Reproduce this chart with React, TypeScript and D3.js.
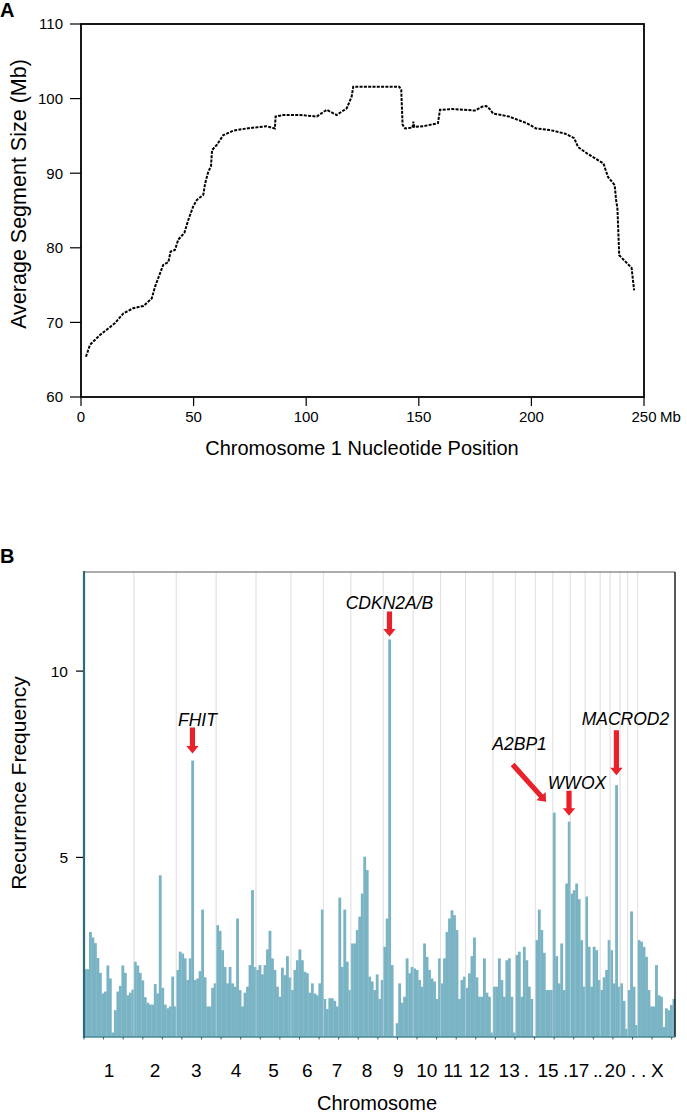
import React from 'react';
import * as d3 from 'd3';

// ---------- Panel A data ----------
const segPos = [2.2, 4, 8.4, 15.1, 18.8, 23.2, 27.7, 31.4, 32.9, 36.5, 38.8, 39.8, 41.7, 43.2, 45.9, 47.6, 49.9, 51.4, 54.3, 55.1, 56.5, 57.7, 58.2, 60.3, 63.2, 67.6, 73.6, 82.4, 86.1, 86.4, 89.8, 97.2, 104.7, 109.1, 113.5, 118, 120.2, 120.9, 141.3, 142.2, 142.8, 143.9, 147.2, 147.6, 148.0, 152, 158.5, 159.4, 165, 170, 175, 178, 180, 181.5, 183, 190, 198, 202, 208, 215, 219, 220.7, 224.5, 232, 234, 237, 237.6, 238.2, 239, 244.5, 245.6];
const segSize = [65.4, 67.0, 68.3, 69.9, 71.2, 71.9, 72.2, 73.2, 74.8, 77.7, 78.1, 79.5, 79.7, 81.1, 82.0, 83.7, 85.6, 86.4, 87.1, 88.6, 90.2, 90.9, 93.1, 93.8, 95.1, 95.7, 96.0, 96.3, 96.0, 97.6, 97.8, 97.8, 97.6, 98.5, 97.8, 98.7, 100.3, 101.6, 101.6, 101.2, 96.5, 96.0, 96.1, 96.9, 96.2, 96.3, 96.7, 98.5, 98.6, 98.5, 98.4, 98.9, 99.0, 98.6, 98.0, 97.6, 96.7, 96.0, 95.8, 95.3, 94.7, 93.5, 92.7, 91.3, 89.5, 88.4, 86.4, 85.3, 79.0, 77.3, 74.3];
const aTicksX = [0, 50, 100, 150, 200, 250];
const aTicksY = [60, 70, 80, 90, 100, 110];

// ---------- Panel B data ----------
const chromNames = ['1', '2', '3', '4', '5', '6', '7', '8', '9', '10', '11', '12', '13', '14', '15', '16', '17', '18', '19', '20', '21', '22', 'X'];
const chromTickLabels = ['1', '2', '3', '4', '5', '6', '7', '8', '9', '10', '11', '12', '13', '.', '15', '.', '17', '.', '.', '20', '.', '.', 'X'];
const chr1 = [2.0, 2.0, 3.0, 2.85, 2.7, 2.3, 1.9, 1.35, 1.4, 2.1, 1.75, 0.3, 0.9, 1.4, 1.55, 2.1, 1.9, 1.3, 1.37, 1.45];
const chr2 = [2.2, 2.1, 1.9, 1.7, 1.25, 1.1, 1.05, 1.05, 1.6, 1.35, 4.52, 1.5, 1.05, 0.95, 1.0, 1.8, 1.0];
const chr3 = [1.98, 2.47, 2.42, 2.29, 1.71, 2.29, 7.6, 1.71, 1.75, 1.95, 3.6, 1.78, 1.0, 1.0, 1.5, 1.62];
const chr4 = [3.18, 3.03, 2.51, 2.06, 1.62, 2.06, 1.62, 1.53, 3.36, 1.44, 1.0, 1.37, 1.53, 2.11, 4.12, 2.06];
const chr5 = [1.98, 2.11, 1.86, 2.11, 2.53, 3.03, 2.29, 1.98, 1.53, 1.26, 2.04, 1.84, 2.35, 1.78];
const chr6 = [1.44, 1.98, 2.24, 2.53, 2.24, 1.93, 1.89, 1.37, 1.62, 1.35, 1.3, 1.62, 3.6];
const chr7 = [1.2, 0.93, 1.22, 1.22, 1.15, 1.0, 3.92, 2.06, 3.6, 2.2, 1.44];
const chr8 = [2.69, 2.69, 3.05, 3.41, 4.03, 5.02, 4.66, 1.8, 1.67, 1.44, 1.86, 1.2, 1.71];
const chr9 = [2.6, 3.36, 10.85, 2.11, 0.2, 0.55, 1.62, 1.1, 1.26, 2.29, 1.89, 2.06];
const chr10 = [2.02, 1.98, 1.71, 1.53, 2.69, 2.33, 1.98, 1.75, 1.67, 1.2, 2.29];
const chr11 = [1.62, 2.29, 3.0, 3.36, 3.58, 3.45, 3.05, 1.2, 1.71, 1.8];
const chr12 = [1.5, 1.89, 2.35, 2.85, 1.78, 1.26, 1.26, 2.29, 1.37, 1.26, 0.3];
const chr13 = [1.53, 1.53, 2.29, 1.71, 1.26, 2.24, 2.29, 1.26, 0.3];
const chr14 = [2.38, 2.47, 1.26, 2.6, 2.24, 1.53, 1.2, 0.2];
const chr15 = [2.78, 3.6, 3.05, 2.44, 1.44, 1.44, 1.44];
const chr16 = [6.2, 2.35, 1.62, 2.69, 1.44, 4.3, 5.96];
const chr17 = [4.03, 4.12, 4.3, 3.88, 2.78, 1.53];
const chr18 = [3.95, 2.6, 1.53, 2.6, 2.51, 1.71];
const chr19 = [1.44, 1.78, 1.98, 2.78];
const chr20 = [2.51, 1.62, 6.94, 1.53];
const chr21 = [1.62, 1.15, 0.4];
const chr22 = [1.44, 3.55, 1.53, 0.5];
const chrX = [2.78, 2.74, 2.6, 2.33, 1.44, 1.0, 1.0, 2.11, 1.3, 1.26, 0.45, 0.95, 0.9, 1.04, 1.2];
const chromValues = [chr1, chr2, chr3, chr4, chr5, chr6, chr7, chr8, chr9, chr10, chr11, chr12, chr13, chr14, chr15, chr16, chr17, chr18, chr19, chr20, chr21, chr22, chrX];
const freqTicks = [5, 10];
const freqDomain = [0.18, 12.66];
const genomeLengthMb = 3017;
const genomeTickStepMb = 100;
const genes = [
  { name: 'FHIT', chrom: '3', bin: 6 },
  { name: 'CDKN2A/B', chrom: '9', bin: 2 },
  { name: 'A2BP1', chrom: '16', bin: 0 },
  { name: 'WWOX', chrom: '16', bin: 6 },
  { name: 'MACROD2', chrom: '20', bin: 2 },
];

// label nudges (layout, px) for the chromosome tick labels
const labelNudge = [0, 0, 0, 0, 0, 0, 0, 0, 0, 0, 0, 0, 5, 1, 4, 4, 1, 3, -5, 0, 9.5, 11, 1];

// annotation layout (styles)
const annLayout: Record<string, { gap: number; dx: number; len: number; ang: number; ldx: number; ldy: number }> = {
  'FHIT': { gap: 7, dx: 0, len: 26, ang: 90, ldx: 5, ldy: -2 },
  'CDKN2A/B': { gap: 3, dx: 0, len: 25, ang: 90, ldx: 0, ldy: -2 },
  'A2BP1': { gap: 11, dx: -8, len: 50, ang: 48, ldx: 7, ldy: -15 },
  'WWOX': { gap: 6, dx: 0, len: 25, ang: 90, ldx: 8, ldy: -2 },
  'MACROD2': { gap: 10, dx: 0, len: 45, ang: 90, ldx: 9, ldy: -5 },
};

const FONT = "'Liberation Sans', Arial, Helvetica, sans-serif";
const NARROW = "'Liberation Sans Narrow', 'Arial Narrow', 'Liberation Sans', Arial, sans-serif";

function arrowPath(tipX: number, tipY: number, len: number, angDeg: number) {
  const a = (angDeg * Math.PI) / 180;
  const ux = Math.cos(a), uy = Math.sin(a);
  const px = -uy, py = ux;
  const sw = 2.6, hw = 6.2, hl = 7.5;
  const tailX = tipX - ux * len, tailY = tipY - uy * len;
  const baseX = tipX - ux * hl, baseY = tipY - uy * hl;
  const pts = [
    [tailX + px * sw, tailY + py * sw],
    [baseX + px * sw, baseY + py * sw],
    [baseX + px * hw, baseY + py * hw],
    [tipX, tipY],
    [baseX - px * hw, baseY - py * hw],
    [baseX - px * sw, baseY - py * sw],
    [tailX - px * sw, tailY - py * sw],
  ];
  return { d: 'M' + pts.map((p) => p[0].toFixed(2) + ',' + p[1].toFixed(2)).join('L') + 'Z', tailX, tailY };
}

export default function App() {
  // ----- Panel A -----
  const xA = d3.scaleLinear().domain([0, 250]).range([81, 644]);
  const yA = d3.scaleLinear().domain([60, 110]).range([397, 24]);
  const lineA = d3.line<number>().x((_, i) => xA(segPos[i])).y((d) => yA(d));
  const pathA = lineA(segSize) || '';

  // ----- Panel B -----
  const bins: { v: number; i: number; c: number }[] = [];
  const starts: number[] = [];
  chromValues.forEach((arr, c) => {
    starts.push(bins.length);
    arr.forEach((v) => bins.push({ v, i: bins.length, c }));
  });
  const total = bins.length;
  const xB = d3.scaleLinear().domain([0, total]).range([84, 675]);
  const yB = d3.scaleLinear().domain(freqDomain).range([1037, 572]);
  const gScale = d3.scaleLinear().domain([0, genomeLengthMb]).range([84, 675]);
  const gTicks = d3.range(0, genomeLengthMb, genomeTickStepMb);
  const boundaries = starts.slice(1);

  return (
    <svg width={687} height={1113} style={{ position: 'absolute', left: 0, top: 0, background: '#fff' }} fontFamily={FONT}>
      <rect x={0} y={0} width={687} height={1113} fill="#fff" />
      {/* ===== Panel A ===== */}
      <text x={0} y={17} fontSize={20} fontWeight="bold">A</text>
      <path d={pathA} fill="none" stroke="#000" strokeWidth={2} strokeDasharray="3,1.3" />
      <rect x={xA(0)} y={yA(110)} width={xA(250) - xA(0)} height={yA(60) - yA(110)} fill="none" stroke="#000" strokeWidth={1.8} />
      {aTicksY.map((t) => (
        <g key={'ay' + t}>
          <line x1={70} x2={xA(0)} y1={yA(t)} y2={yA(t)} stroke="#000" strokeWidth={1.2} />
          <text x={63} y={yA(t)} dy="0.36em" textAnchor="end" fontSize={15}>{t}</text>
        </g>
      ))}
      {aTicksX.map((t) => (
        <g key={'ax' + t}>
          <line x1={xA(t)} x2={xA(t)} y1={yA(60)} y2={yA(60) + 9} stroke="#000" strokeWidth={1.2} />
          <text x={xA(t)} y={422} textAnchor="middle" fontSize={15}>{t}</text>
        </g>
      ))}
      <text x={xA(250) + 16} y={422} textAnchor="start" fontSize={15}>Mb</text>
      <text transform="translate(26,194) rotate(-90)" textAnchor="middle" fontSize={21.5}>Average Segment Size (Mb)</text>
      <text x={362} y={455} textAnchor="middle" fontSize={20}>Chromosome 1 Nucleotide Position</text>

      {/* ===== Panel B ===== */}
      <text x={0} y={563} fontSize={20} fontWeight="bold">B</text>
      {boundaries.map((b) => (
        <line key={'g' + b} x1={xB(b)} x2={xB(b)} y1={572} y2={1037} stroke="#d6d6d6" strokeWidth={1} />
      ))}
      {bins.map((d) => (
        <rect key={'b' + d.i} x={xB(d.i)} y={yB(d.v)} width={xB(d.i + 1) - xB(d.i) + 0.35} height={yB(freqDomain[0]) - yB(d.v)} fill="#7ab4c4" />
      ))}
      {boundaries.map((b) => (
        <line key={'gw' + b} x1={xB(b)} x2={xB(b)} y1={572} y2={1037} stroke="#ffffff" strokeOpacity={0.3} strokeWidth={1} />
      ))}
      {/* frame */}
      <line x1={84} x2={675} y1={572} y2={572} stroke="#5a5a5a" strokeWidth={1.2} />
      <line x1={675} x2={675} y1={572} y2={1037} stroke="#111" strokeWidth={1.4} />
      <line x1={84} x2={675} y1={1037} y2={1037} stroke="#4a8898" strokeWidth={1.6} />
      {gTicks.map((t) => (
        <line key={'gt' + t} x1={gScale(t)} x2={gScale(t)} y1={1037} y2={1039.5} stroke="#2e5f6b" strokeWidth={1} />
      ))}
      <line x1={84} x2={84} y1={571} y2={1038} stroke="#2e6b78" strokeWidth={2.2} />
      {freqTicks.map((t) => (
        <g key={'by' + t}>
          <line x1={76} x2={83} y1={yB(t)} y2={yB(t)} stroke="#000" strokeWidth={1.2} />
          <text x={68} y={yB(t)} dy="0.36em" textAnchor="end" fontSize={15.5}>{t}</text>
        </g>
      ))}
      {chromNames.map((c, k) => {
        const s = starts[k];
        const e = k + 1 < starts.length ? starts[k + 1] : total;
        return (
          <text key={'cl' + c} x={(xB(s) + xB(e)) / 2 + labelNudge[k]} y={1077} textAnchor="middle" fontSize={19} fontFamily={NARROW}>{chromTickLabels[k]}</text>
        );
      })}
      <text transform="translate(26,783) rotate(-90)" textAnchor="middle" fontSize={21}>Recurrence Frequency</text>
      <text x={377} y={1110} textAnchor="middle" fontSize={20}>Chromosome</text>

      {/* annotations */}
      {genes.map((g) => {
        const c = chromNames.indexOf(g.chrom);
        const bi = starts[c] + g.bin;
        const lay = annLayout[g.name];
        const cx = (xB(bi) + xB(bi + 1)) / 2 + lay.dx;
        const tipY = yB(bins[bi].v) - lay.gap;
        const ar = arrowPath(cx, tipY, lay.len, lay.ang);
        return (
          <g key={'ann' + g.name}>
            <path d={ar.d} fill="#e8212b" />
            <text x={ar.tailX + lay.ldx} y={ar.tailY + lay.ldy} textAnchor="middle" fontSize={17.5} fontStyle="italic">{g.name}</text>
          </g>
        );
      })}
    </svg>
  );
}
